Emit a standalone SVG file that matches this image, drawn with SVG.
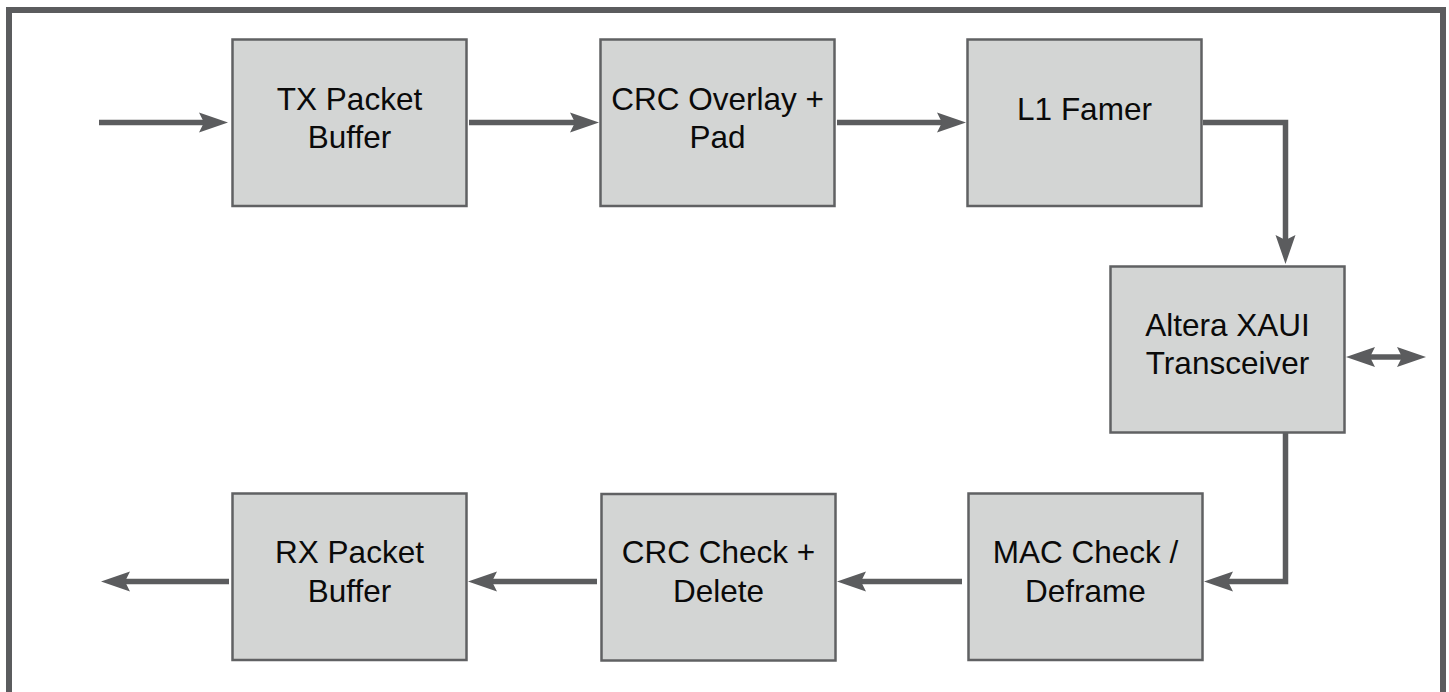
<svg xmlns="http://www.w3.org/2000/svg" width="1449" height="692" viewBox="0 0 1449 692">
<style>
.box{fill:#d3d5d4;stroke:#606163;stroke-width:2.5}
.lbl{font-family:"Liberation Sans",Arial,sans-serif;font-size:31.5px;fill:#0a0a0a;text-anchor:middle}
.con{fill:none;stroke:#5b5c5e;stroke-width:5.5;stroke-linejoin:miter}
</style>
<defs>
<marker id="ah" viewBox="-1 -12 32 24" markerUnits="userSpaceOnUse" markerWidth="32" markerHeight="24" refX="5" refY="0" orient="auto-start-reverse">
<path d="M0,-10 L29,0 L0,10 L5,0 Z" fill="#5b5c5e"/>
</marker>
</defs>
<rect width="1449" height="692" fill="#fff"/>
<path id="frame" d="M9,700 V10 H1443 V700" fill="none" stroke="#5b5c5e" stroke-width="6"/>
<g id="connectors">
<path class="con" d="M99,122.5 H204" marker-end="url(#ah)"/>
<path class="con" d="M469,122.5 H575" marker-end="url(#ah)"/>
<path class="con" d="M837,122.5 H942" marker-end="url(#ah)"/>
<path class="con" d="M1203,122.5 H1285.5 V240" marker-end="url(#ah)"/>
<path class="con" d="M1285.5,433 V581.5 H1228" marker-end="url(#ah)"/>
<path class="con" d="M962,581.5 H861" marker-end="url(#ah)"/>
<path class="con" d="M597,581.5 H492" marker-end="url(#ah)"/>
<path class="con" d="M229,581.5 H125" marker-end="url(#ah)"/>
<path class="con" d="M1370,357 H1402" marker-start="url(#ah)" marker-end="url(#ah)"/>
</g>
<g id="tx-packet-buffer">
<rect class="box" x="232.5" y="39.5" width="234" height="166.5"/>
<text class="lbl" x="349.5" y="110">TX Packet</text>
<text class="lbl" x="349.5" y="148">Buffer</text>
</g>
<g id="crc-overlay-pad">
<rect class="box" x="600.5" y="39.5" width="234" height="166.5"/>
<text class="lbl" x="717.5" y="110">CRC Overlay +</text>
<text class="lbl" x="717.5" y="148">Pad</text>
</g>
<g id="l1-famer">
<rect class="box" x="967.5" y="39.5" width="234" height="166.5"/>
<text class="lbl" x="1084.5" y="120">L1 Famer</text>
</g>
<g id="altera-xaui">
<rect class="box" x="1110.5" y="266.5" width="234" height="166"/>
<text class="lbl" x="1227.5" y="336">Altera XAUI</text>
<text class="lbl" x="1227.5" y="374">Transceiver</text>
</g>
<g id="mac-check">
<rect class="box" x="968.5" y="493.5" width="234" height="166.5"/>
<text class="lbl" x="1085.5" y="563">MAC Check /</text>
<text class="lbl" x="1085.5" y="601.5">Deframe</text>
</g>
<g id="crc-check">
<rect class="box" x="601.5" y="494" width="234" height="166.5"/>
<text class="lbl" x="718.5" y="563">CRC Check +</text>
<text class="lbl" x="718.5" y="601.5">Delete</text>
</g>
<g id="rx-packet-buffer">
<rect class="box" x="232.5" y="493.5" width="234" height="166.5"/>
<text class="lbl" x="349.5" y="563">RX Packet</text>
<text class="lbl" x="349.5" y="601.5">Buffer</text>
</g>
</svg>
